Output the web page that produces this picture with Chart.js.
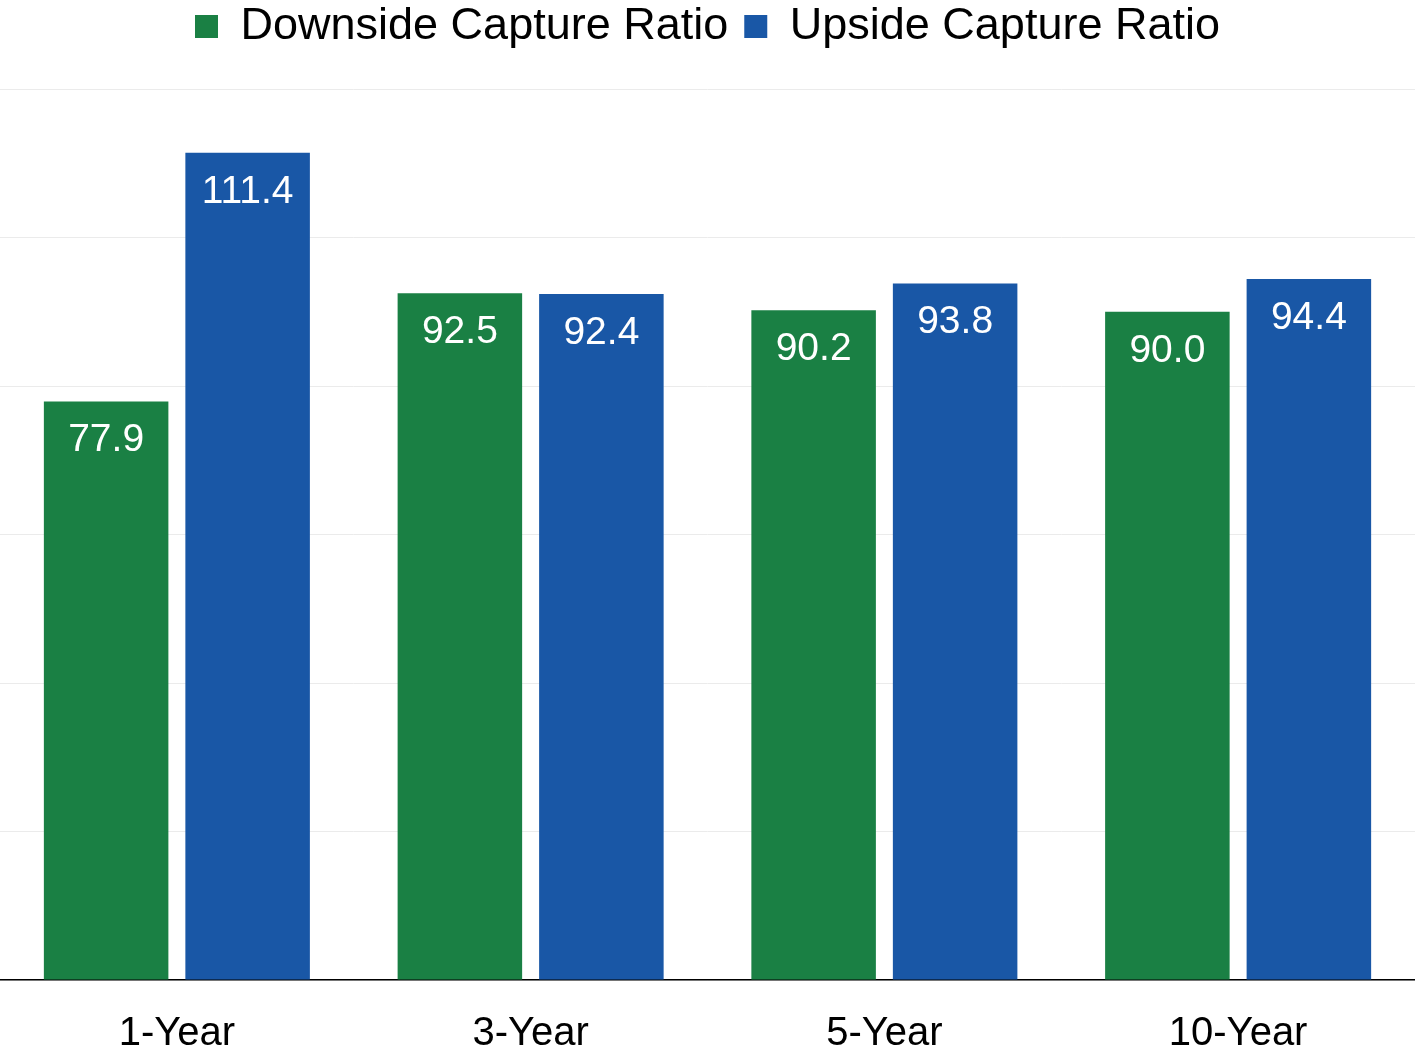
<!DOCTYPE html>
<html>
<head>
<meta charset="utf-8">
<script src="https://cdn.jsdelivr.net/npm/chart.js@4"></script>
<style>
    html, body { margin: 0; padding: 0; background: #fff; }
    #wrap { width: 1415px; height: 1052px; }
</style>
</head>
<body>
<div id="wrap"><canvas id="captureChart"></canvas></div>
<script>
// Chart data
const periods = ['1-Year', '3-Year', '5-Year', '10-Year'];
const downsideCapture = [77.9, 92.5, 90.2, 90.0];
const upsideCapture = [111.4, 92.4, 93.8, 94.4];
const gridTicks = [0, 20, 40, 60, 80, 100, 120];

const FONT = "'Liberation Sans', Arial, Helvetica, sans-serif";

// Draw values in white near the top of each bar
const barValueLabels = {
    id: 'barValueLabels',
    afterDatasetsDraw(chart) {
        const ctx = chart.ctx;
        ctx.save();
        ctx.fillStyle = '#ffffff';
        ctx.font = '39px ' + FONT;
        ctx.textAlign = 'center';
        ctx.textBaseline = 'middle';
        chart.data.datasets.forEach((ds, i) => {
            chart.getDatasetMeta(i).data.forEach((bar, j) => {
                ctx.fillText(ds.data[j].toFixed(1), bar.x, bar.y + 39);
            });
        });
        ctx.restore();
    }
};

// Extra room under the legend
const legendSpacer = {
    id: 'legendSpacer',
    beforeInit(chart) {
        const fit = chart.legend.fit;
        chart.legend.fit = function() {
            fit.bind(chart.legend)();
            this.height += 30;
        };
    }
};

const ctx = document.getElementById('captureChart').getContext('2d');
const captureChart = new Chart(ctx, {
    type: 'bar',
    data: {
        labels: periods,
        datasets: [
            {
                label: 'Downside Capture Ratio',
                data: downsideCapture,
                backgroundColor: '#1a8044',
                barPercentage: 0.88,
                categoryPercentage: 0.8
            },
            {
                label: 'Upside Capture Ratio',
                data: upsideCapture,
                backgroundColor: '#1957a6',
                barPercentage: 0.88,
                categoryPercentage: 0.8
            }
        ]
    },
    options: {
        responsive: true,
        maintainAspectRatio: false,
        animation: false,
        layout: { padding: { top: -12, left: 0, right: 0, bottom: 0 } },
        plugins: {
            legend: {
                position: 'top',
                labels: {
                    boxWidth: 23,
                    boxHeight: 23,
                    padding: 16,
                    color: '#000',
                    font: { family: FONT, size: 45 }
                }
            },
            tooltip: { enabled: false }
        },
        scales: {
            y: {
                min: 0,
                max: 120,
                afterBuildTicks(axis) {
                    axis.ticks = gridTicks.map(v => ({ value: v }));
                },
                ticks: { display: false },
                border: { display: false },
                grid: { color: '#ebebeb', lineWidth: 1, drawTicks: false }
            },
            x: {
                afterFit(axis) {
                    axis.height = 72;
                },
                border: { display: true, color: '#000', width: 1.5 },
                grid: { display: false, drawTicks: false },
                ticks: {
                    color: '#000',
                    padding: 30,
                    font: { family: FONT, size: 40 }
                }
            }
        }
    },
    plugins: [barValueLabels, legendSpacer]
});
</script>
</body>
</html>
